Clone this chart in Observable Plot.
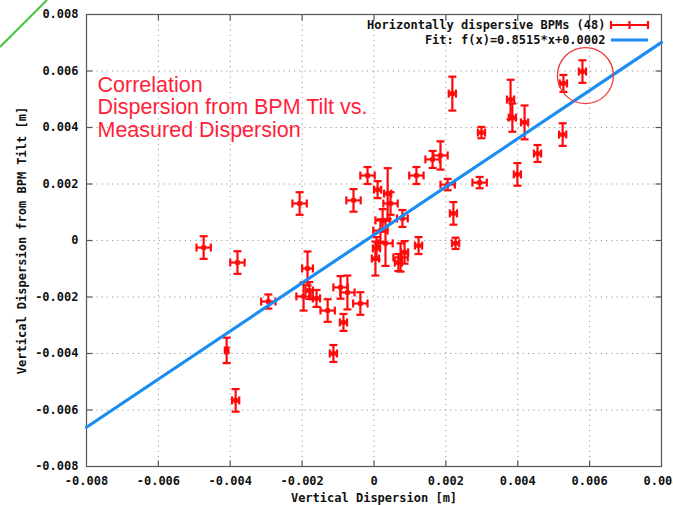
<!DOCTYPE html>
<html>
<head>
<meta charset="utf-8">
<script src="https://cdn.jsdelivr.net/npm/d3@7"></script>
<script src="https://cdn.jsdelivr.net/npm/@observablehq/plot@0.6"></script>
<style>
  html, body { margin: 0; padding: 0; background: #fff; }
  #chart svg { display: block; }
</style>
</head>
<body>
<div id="chart"></div>
<script>
// Measured vertical dispersion [m] (x) and dispersion from BPM tilt [m] (y)
const dispMeasured = [-0.00474,-0.0038,-0.00294,-0.00207,-0.0041,-0.00385,-0.00196,-0.00185,-0.0016,-0.00129,
  -0.00093,-0.00074,-0.00085,-0.00038,-0.00113,-0.00057,-0.00018,0.0001,0.00038,0.00046,
  0.00024,0.00079,0.00018,0.00032,0.00004,0.00074,0.00124,0.00118,0.00163,0.00185,
  0.00205,0.00221,0.00227,0.00218,0.00299,0.0038,0.00385,0.00419,0.00527,0.0058,
  0.00525,0.00455,0.00399,0.00294,0.00007,0.00085,0.00068,-0.0018];
const dispTilt = [-0.00025,-0.00078,-0.00216,0.00131,-0.00389,-0.00566,-0.00198,-0.00099,-0.00205,-0.00248,
  -0.00166,-0.00184,-0.0029,-0.00223,-0.004,0.00142,0.0023,0.0018,0.00166,0.00131,
  0.00071,0.00078,0.00035,-0.0001,-0.00064,-0.0006,-0.00018,0.0023,0.00287,0.00301,
  0.00198,0.00096,-0.0001,0.0052,0.00382,0.00499,0.00435,0.00418,0.00556,0.00598,
  0.00375,0.00308,0.00234,0.00205,-0.00028,-0.00042,-0.00078,-0.00177];
const errMeasured = [0.0002,0.0002,0.0002,0.0002,0.00005,0.0001,0.0002,0.00015,0.0001,0.0002,
  0.0002,0.0002,0.0001,0.0002,0.0001,0.0002,0.0002,0.0001,0.0001,0.0002,
  0.0002,0.00015,0.0002,0.0002,0.0001,0.0002,0.0001,0.0002,0.0002,0.0002,
  0.0002,0.0001,0.0001,0.0001,0.0001,0.0001,0.0001,0.0001,0.0001,0.0001,
  0.0001,0.0001,0.0001,0.0002,0.0001,0.0001,0.0001,0.0001];
const errTilt = [0.0004,0.0004,0.00025,0.0004,0.00045,0.0004,0.0005,0.0006,0.0003,0.0004,
  0.0004,0.0006,0.0003,0.0004,0.0003,0.0004,0.0003,0.0003,0.0009,0.0004,
  0.0004,0.0003,0.0004,0.0008,0.0006,0.0005,0.0003,0.0003,0.0003,0.0005,
  0.0002,0.0004,0.0002,0.0006,0.0002,0.0007,0.0005,0.0006,0.0003,0.0004,
  0.0004,0.0003,0.0004,0.0002,0.0004,0.0004,0.0003,0.0003];
const highlighted = 39; // circled BPM
const fitSlope = 0.8515, fitOffset = 0.0002;
const xTicks = [-0.008,-0.006,-0.004,-0.002,0,0.002,0.004,0.006,0.008];
const yTicks = [-0.008,-0.006,-0.004,-0.002,0,0.002,0.004,0.006,0.008];
const legendPoints = "Horizontally dispersive BPMs (48)";
const legendFit = "Fit: f(x)=0.8515*x+0.0002";
const annotation = "Correlation\nDispersion from BPM Tilt vs.\nMeasured Dispersion";
const xLabel = "Vertical Dispersion [m]";
const yLabel = "Vertical Dispersion from BPM Tilt [m]";

const data = dispMeasured.map((x, i) => ({x, y: dispTilt[i], xe: errMeasured[i], ye: errTilt[i]}));
const fitLine = [xTicks[0], xTicks[xTicks.length - 1]].map(x => ({x, y: fitSlope * x + fitOffset}));

const hline = {draw(ctx, size) { const r = Math.sqrt(size / Math.PI); ctx.moveTo(-r, 0); ctx.lineTo(r, 0); }};
const vline = {draw(ctx, size) { const r = Math.sqrt(size / Math.PI); ctx.moveTo(0, -r); ctx.lineTo(0, r); }};
const fmt = d => d === 0 ? "0" : d.toFixed(3);
const RED = "#ff0a0a", BLUE = "#1b8cf2", GRID = "#9a9a9a", AXIS = "#555";
const lo = xTicks[0], hi = xTicks[xTicks.length - 1];
const inner = xTicks.filter(d => d > lo && d < hi);
const innerY = yTicks.filter(d => d > lo && d < hi);

const chart = Plot.plot({
  width: 673,
  height: 505,
  marginLeft: 86,
  marginRight: 12,
  marginTop: 14,
  marginBottom: 39,
  style: {fontFamily: "DejaVu Sans Mono", fontSize: "12px", fontWeight: "bold", background: "#fff", color: "#111"},
  x: {domain: [lo, hi], ticks: xTicks, tickFormat: fmt, tickSize: 0, tickPadding: 10, label: null},
  y: {domain: [lo, hi], ticks: yTicks, tickFormat: fmt, tickSize: 0, tickPadding: 8, label: null},
  marks: [
    Plot.ruleX(inner, {x: d => d, stroke: GRID, strokeDasharray: "1.2,4", strokeWidth: 1}),
    Plot.ruleY(innerY, {y: d => d, stroke: GRID, strokeDasharray: "1.2,4", strokeWidth: 1}),
    Plot.frame({stroke: AXIS, strokeWidth: 1.2}),
    // inward tick marks on all four borders
    Plot.dot(inner, {x: d => d, y: () => lo, symbol: vline, r: 3, dy: -3, stroke: AXIS, strokeWidth: 1.2}),
    Plot.dot(inner, {x: d => d, y: () => hi, symbol: vline, r: 3, dy: 3, stroke: AXIS, strokeWidth: 1.2}),
    Plot.dot(innerY, {y: d => d, x: () => lo, symbol: hline, r: 3, dx: 3, stroke: AXIS, strokeWidth: 1.2}),
    Plot.dot(innerY, {y: d => d, x: () => hi, symbol: hline, r: 3, dx: -3, stroke: AXIS, strokeWidth: 1.2}),
    // error bars
    Plot.ruleY(data, {y: "y", x1: d => d.x - d.xe, x2: d => d.x + d.xe, stroke: RED, strokeWidth: 2.2}),
    Plot.ruleX(data, {x: "x", y1: d => d.y - d.ye, y2: d => d.y + d.ye, stroke: RED, strokeWidth: 2.2}),
    Plot.dot(data, {x: d => d.x - d.xe, y: "y", symbol: vline, r: 4, stroke: RED, strokeWidth: 2.2}),
    Plot.dot(data, {x: d => d.x + d.xe, y: "y", symbol: vline, r: 4, stroke: RED, strokeWidth: 2.2}),
    Plot.dot(data, {x: "x", y: d => d.y - d.ye, symbol: hline, r: 4, stroke: RED, strokeWidth: 2.2}),
    Plot.dot(data, {x: "x", y: d => d.y + d.ye, symbol: hline, r: 4, stroke: RED, strokeWidth: 2.2}),
    Plot.dot(data, {x: "x", y: "y", symbol: "square", r: 2.6, fill: RED}),
    // fit line
    Plot.line(fitLine, {x: "x", y: "y", stroke: BLUE, strokeWidth: 3.2}),
    // highlight circle
    Plot.dot([data[highlighted]], {x: "x", y: "y", r: 28, dx: 3, dy: 4, stroke: "#f03a3a", strokeWidth: 1.3, fill: "none"}),
    // annotation
    Plot.text([annotation], {frameAnchor: "top-left", textAnchor: "start", lineAnchor: "top", dx: 11, dy: 61,
      fontFamily: "Liberation Sans, Arial, sans-serif", fontWeight: "normal", fontSize: 21.5, lineHeight: 1.05, fill: "#ff1f3c"}),
    // legend texts
    Plot.text([legendPoints], {frameAnchor: "top-right", textAnchor: "end", lineAnchor: "middle", dx: -56, dy: 11, fill: "#111"}),
    Plot.text([legendFit], {frameAnchor: "top-right", textAnchor: "end", lineAnchor: "middle", dx: -56, dy: 26, fill: "#111"}),
    // axis titles
    Plot.text([xLabel], {frameAnchor: "bottom", textAnchor: "middle", lineAnchor: "middle", dy: 32, fill: "#111"}),
    Plot.text([yLabel], {frameAnchor: "left", textAnchor: "middle", lineAnchor: "middle", rotate: -90, dx: -64, fill: "#111"})
  ]
});
document.getElementById("chart").appendChild(chart);

// legend samples, anchored to the plot frame's top-right corner
const svg = d3.select(chart);
const [fx0, fx1] = chart.scale("x").range;
const fy0 = Math.min(...chart.scale("y").range);
const sx1 = fx1 - 13, sx0 = fx1 - 50;
const key = svg.append("g");
key.append("line").attr("x1", sx0).attr("x2", sx1).attr("y1", fy0 + 11).attr("y2", fy0 + 11)
  .attr("stroke", RED).attr("stroke-width", 2.2);
[sx0, (sx0 + sx1) / 2, sx1].forEach(cx => key.append("line").attr("x1", cx).attr("x2", cx)
  .attr("y1", fy0 + 7).attr("y2", fy0 + 15).attr("stroke", RED).attr("stroke-width", 2.2));
key.append("line").attr("x1", sx0).attr("x2", sx1).attr("y1", fy0 + 26).attr("y2", fy0 + 26)
  .attr("stroke", BLUE).attr("stroke-width", 3.2);
// slide decoration: green stroke in the top-left corner
svg.append("line").attr("x1", 0).attr("y1", 47).attr("x2", 47).attr("y2", 0)
  .attr("stroke", "#45c43c").attr("stroke-width", 2);
</script>
</body>
</html>
